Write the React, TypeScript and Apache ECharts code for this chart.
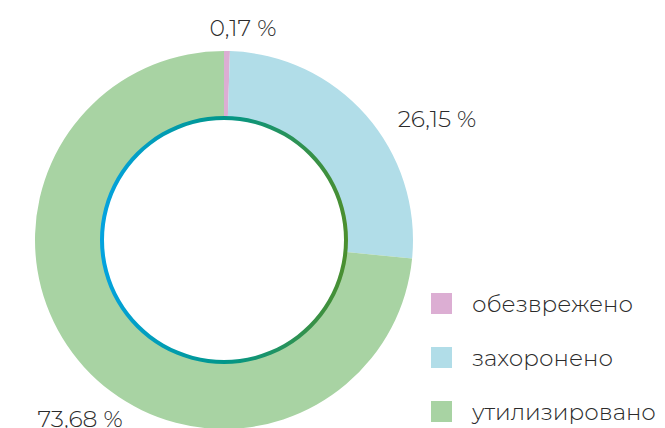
import React, { useEffect, useRef } from "react";
import * as echarts from "echarts";

const categories = ["обезврежено", "захоронено", "утилизировано"];
const values = [0.17, 26.15, 73.68];
const colors = ["#DCAED3", "#B1DDE8", "#A8D3A3"];
const labelSpots = [
  [243, 27],
  [437, 118],
  [80, 418],
];

export default function App() {
  const ref = useRef<HTMLDivElement>(null);
  useEffect(() => {
    if (!ref.current) return;
    const chart = echarts.init(ref.current, undefined, { renderer: "svg" });
    const font = "Montserrat, 'Open Sans', Lato, sans-serif";
    chart.setOption({
      animation: false,
      legend: {
        orient: "vertical",
        left: 431,
        top: 292,
        padding: 0,
        itemWidth: 21,
        itemHeight: 21,
        itemGap: 31,
        icon: "rect",
        data: categories,
        textStyle: {
          fontFamily: font,
          fontSize: 23,
          fontWeight: 300,
          color: "#2b2b2b",
          padding: [0, 0, 0, 15],
        },
      },
      series: [
        {
          type: "pie",
          center: [224, 240],
          radius: [123, 189],
          startAngle: 90,
          clockwise: true,
          minAngle: 1.8,
          silent: true,
          data: categories.map((c, i) => ({
            name: c,
            value: values[i],
            itemStyle: { color: colors[i] },
          })),
          label: {
            show: true,
            position: "inside",
            overflow: "none",
            formatter: (p: any) => p.value.toFixed(2).replace(".", ",") + " %",
            fontFamily: font,
            fontSize: 23.5,
            fontWeight: 300,
            color: "#2b2b2b",
          },
          labelLine: { show: false },
          labelLayout: (p: any) => ({
            x: labelSpots[p.dataIndex][0],
            y: labelSpots[p.dataIndex][1],
            align: "center",
            verticalAlign: "middle",
          }),
        },
        {
          type: "pie",
          center: [224, 240],
          radius: [120, 124],
          silent: true,
          label: { show: false },
          labelLine: { show: false },
          data: [
            {
              name: "ring",
              value: 1,
              itemStyle: {
                color: new echarts.graphic.LinearGradient(0, 0, 1, 0, [
                  { offset: 0, color: "#03A3E0" },
                  { offset: 0.5, color: "#00968A" },
                  { offset: 1, color: "#4C8F2E" },
                ]),
              },
            },
          ],
        },
      ],
    });
    return () => chart.dispose();
  }, []);
  return (
    <div
      ref={ref}
      style={{ position: "fixed", left: 0, top: 0, width: 665, height: 428, background: "#fff" }}
    />
  );
}
